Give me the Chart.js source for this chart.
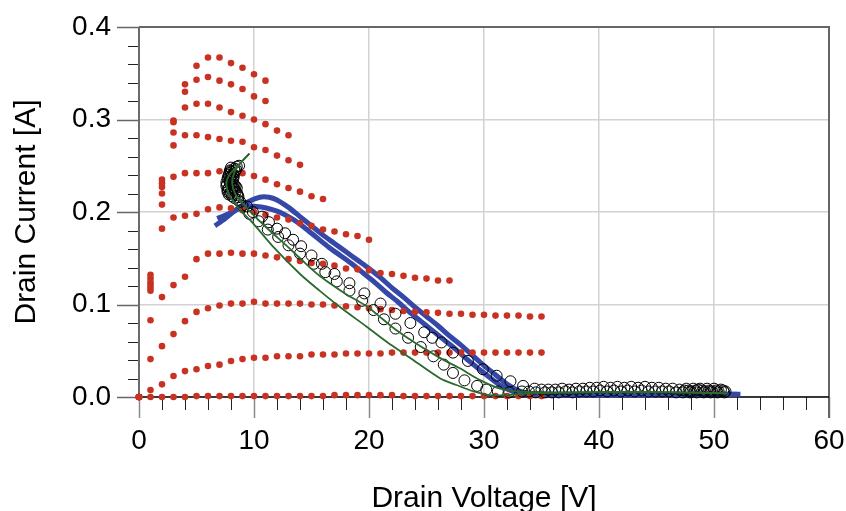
<!DOCTYPE html>
<html>
<head>
<meta charset="utf-8">
<script src="https://cdn.jsdelivr.net/npm/chart.js@4"></script>
<style>
  html, body { margin: 0; padding: 0; background: #fff; }
  #wrap { width: 846px; height: 511px; }
</style>
</head>
<body>
<div id="wrap"><canvas id="chart"></canvas></div>
<script>
// drain voltage steps of the pulsed IV family (index = Vd in volts)
const vdSteps = [0,1,2,3,4,5,6,7,8,9,10,11,12,13,14,15,16,17,18,19,20,21,22,23,24,25,26,27,28,29,30,31,32,33,34,35];

// measured IV curves, one per gate step, top to bottom
const iv1 = [0, 0.132, 0.235, 0.299, 0.338, 0.358, 0.367, 0.367, 0.361, 0.356, 0.349, 0.342];
const iv2 = [0, 0.128, 0.231, 0.297, 0.330, 0.343, 0.346, 0.342, 0.338, 0.333, 0.325, 0.320];
const iv3 = [0, 0.124, 0.227, 0.286, 0.313, 0.317, 0.317, 0.313, 0.308, 0.304, 0.300, 0.295, 0.288, 0.283];
const iv4 = [0, 0.121, 0.220, 0.272, 0.283, 0.283, 0.281, 0.279, 0.277, 0.276, 0.270, 0.267, 0.261, 0.256, 0.251];
const iv5 = [0, 0.118, 0.208, 0.238, 0.242, 0.242, 0.242, 0.244, 0.243, 0.242, 0.239, 0.235, 0.230, 0.226, 0.222, 0.217, 0.214];
const iv6 = [0, 0.115, 0.182, 0.194, 0.196, 0.198, 0.203, 0.205, 0.204, 0.202, 0.200, 0.197, 0.194, 0.192, 0.188, 0.185, 0.181, 0.179, 0.176, 0.174, 0.170];
const iv7 = [0, 0.083, 0.108, 0.121, 0.130, 0.149, 0.155, 0.155, 0.156, 0.155, 0.155, 0.153, 0.151, 0.149, 0.147, 0.145, 0.144, 0.142, 0.139, 0.138, 0.137, 0.134, 0.133, 0.131, 0.129, 0.128, 0.126, 0.126];
const iv8 = [0, 0.041, 0.055, 0.068, 0.082, 0.092, 0.096, 0.099, 0.101, 0.101, 0.103, 0.101, 0.101, 0.101, 0.101, 0.100, 0.100, 0.099, 0.098, 0.097, 0.096, 0.095, 0.094, 0.093, 0.092, 0.0915, 0.091, 0.090, 0.090, 0.089, 0.089, 0.088, 0.088, 0.088, 0.087, 0.087];
const iv9 = [0, 0.0076, 0.0137, 0.0227, 0.028, 0.030, 0.0335, 0.035, 0.039, 0.041, 0.0425, 0.0425, 0.044, 0.044, 0.044, 0.046, 0.046, 0.046, 0.047, 0.047, 0.047, 0.047, 0.048, 0.048, 0.048, 0.048, 0.048, 0.048, 0.048, 0.048, 0.048, 0.048, 0.048, 0.048, 0.048, 0.048];
const iv10 = [0, 0, 0, 0, 0, 0.001, 0.001, 0.001, 0.001, 0.001, 0.001, 0.001, 0.001, 0.001, 0.001, 0.001, 0.001, 0.002, 0.002, 0.002, 0.002, 0.002, 0.002, 0.001, 0.001, 0.001, 0.001, 0.001, 0.001, 0.001, 0.001, 0.001, 0.001, 0.001, 0.001, 0.001];

// simulated load line, open circles [Vd, Id]
const circlesV = [
  7.9,8.0,7.8,7.7,7.6,7.6,7.7,7.9,8.1,8.2,8.3,8.5,8.7,8.0,8.1,8.4,8.6,7.8,7.9,8.2,8.3,8.6,8.5,8.0,
  7.65,7.75,7.85,7.95,8.05,8.15,8.25,8.35,8.45,7.7,7.8,7.9,8.0,8.1,8.2,8.3,8.4,8.55,8.65,7.95,8.05,
  8.8,9.4,9.9,10.7,11.3,12.0,12.7,13.4,14.1,15.0,15.9,17.0,18.3,19.6,21.0,22.3,23.6,24.8,25.5,26.3,27.3,28.6,29.9,31.1,32.3,33.4,34.4,
  8.3,9.0,9.6,10.4,11.2,12.1,13.0,14.0,15.2,16.2,17.2,18.3,19.4,20.4,21.3,22.3,23.4,24.5,25.6,26.5,27.3,28.3,29.4,30.2,31.2,32.2,
  35.0,35.6,36.2,36.8,37.4,38.0,38.6,39.2,39.8,40.4,41.0,41.6,42.2,42.8,43.4,44.0,44.6,45.2,45.8,46.4,47.0,47.6,48.2,48.8,49.4,50.0,50.6,
  33.3,33.9,34.5,35.3,35.9,36.5,37.1,37.7,38.3,38.9,39.5,40.1,40.7,41.3,41.9,42.5,43.1,43.7,44.3,44.9,45.5,46.1,46.7,47.3,47.9,48.5,49.1,49.7,50.3,50.9,
  47.4,47.8,48.0,48.4,48.6,49.0,49.2,49.6,49.8,50.2,50.4,50.8,51.0
];
const circlesI = [
  0.245,0.243,0.240,0.236,0.232,0.228,0.224,0.220,0.217,0.241,0.247,0.249,0.250,0.230,0.226,0.222,0.218,0.226,0.234,0.236,0.229,0.213,0.226,0.248,
  0.230,0.238,0.242,0.238,0.235,0.232,0.239,0.244,0.246,0.222,0.219,0.231,0.221,0.223,0.227,0.225,0.228,0.220,0.216,0.244,0.239,
  0.211,0.206,0.200,0.195,0.189,0.182,0.177,0.170,0.163,0.153,0.144,0.133,0.123,0.112,0.101,0.090,0.080,0.070,0.064,0.059,0.048,0.039,0.030,0.023,0.017,0.012,0.009,
  0.215,0.207,0.198,0.190,0.181,0.173,0.164,0.155,0.144,0.135,0.125,0.115,0.104,0.094,0.084,0.074,0.064,0.054,0.044,0.035,0.026,0.018,0.012,0.008,0.006,0.005,
  0.008,0.008,0.008,0.009,0.008,0.009,0.009,0.010,0.010,0.011,0.010,0.011,0.010,0.011,0.010,0.011,0.010,0.010,0.009,0.009,0.008,0.009,0.009,0.009,0.009,0.009,0.008,
  0.006,0.006,0.005,0.005,0.005,0.005,0.006,0.005,0.006,0.006,0.006,0.007,0.006,0.007,0.006,0.007,0.006,0.007,0.006,0.006,0.006,0.006,0.005,0.005,0.005,0.005,0.005,0.005,0.005,0.005,
  0.007,0.007,0.006,0.007,0.008,0.007,0.006,0.007,0.006,0.007,0.006,0.007,0.006
];

// blue trajectory, two passes
const blueAV = [6.6,7.5,8.5,9.5,10.5,11.3,12.0,13.0,14.0,15.0,16.0,17.0,18.0,19.0,20.0,21.0,22.0,23.0,24.0,25.0,26.0,27.0,28.0,29.0,30.0,31.0,32.0,33.0,34.0,36.0,42.0,48.0,52.3];
const blueAI = [0.185,0.193,0.203,0.211,0.216,0.216,0.213,0.205,0.195,0.185,0.175,0.166,0.157,0.148,0.139,0.129,0.118,0.108,0.097,0.087,0.077,0.066,0.056,0.045,0.034,0.024,0.014,0.007,0.004,0.003,0.003,0.003,0.003];
const blueBV = [6.8,7.8,8.8,10.2,12.0,13.4,14.5,15.5,16.5,17.5,18.5,19.5,20.5,21.5,22.5,23.5,24.5,25.5,26.5,27.5,28.5,29.5,30.5,31.5,32.5,33.5,36.0,44.0,52.0];
const blueBI = [0.193,0.198,0.204,0.206,0.201,0.192,0.182,0.172,0.162,0.153,0.144,0.134,0.124,0.113,0.103,0.092,0.082,0.072,0.062,0.052,0.041,0.031,0.021,0.012,0.006,0.003,0.002,0.002,0.003];

// green trajectory, two passes
const greenAV = [9.6,8.9,8.3,8.1,8.4,9.4,11.1,12.8,14.0,15.7,17.9,19.8,21.2,22.3,24.2,26.2,27.9,29.7,31.4,32.8,36.0,42.0,48.0,51.2];
const greenAI = [0.263,0.254,0.243,0.231,0.219,0.204,0.183,0.164,0.150,0.131,0.112,0.098,0.084,0.073,0.057,0.042,0.031,0.018,0.009,0.006,0.005,0.0055,0.005,0.004];
const greenBV = [9.6,8.6,7.8,7.6,7.9,8.8,9.9,11.7,14.0,15.7,17.5,19.8,21.5,23.5,26.2,27.6,29.1,30.5,32.0,34.0,40.0,46.0,51.0];
const greenBI = [0.263,0.250,0.239,0.230,0.217,0.202,0.188,0.162,0.133,0.115,0.097,0.076,0.060,0.043,0.020,0.013,0.006,0.002,0.002,0.004,0.005,0.005,0.004];

const xTicks = [0, 10, 20, 30, 40, 50, 60];
const yTicks = [0, 0.1, 0.2, 0.3, 0.4];

const RED = '#c83223';
const BLUE = '#3548a8';
const GREEN = '#2b6a2e';
const FONT = "'Liberation Sans', Arial, Helvetica, sans-serif";

const pairs = (xs, ys) => xs.map((v, i) => ({ x: v, y: ys[i] }));
const curve = (vals) => vals.map((v, i) => ({ x: vdSteps[i], y: v }));

const ivCurves = [iv1, iv2, iv3, iv4, iv5, iv6, iv7, iv8, iv9, iv10];

// draws frame, axis lines and major/minor tick marks
const axisFrame = {
  id: 'axisFrame',
  beforeDatasetsDraw(chart) {
    const { ctx, chartArea: a, scales: { x, y } } = chart;
    ctx.save();
    // x ticks: minor every 2 V
    for (let v = 0; v <= 60; v += 2) {
      const px = Math.round(x.getPixelForValue(v)) + 0.5;
      const major = xTicks.includes(v);
      ctx.strokeStyle = major ? '#8a8a8a' : '#222';
      ctx.lineWidth = major ? 1.5 : 1;
      ctx.beginPath();
      ctx.moveTo(px, a.bottom);
      ctx.lineTo(px, a.bottom + (major ? 21 : 13));
      ctx.stroke();
    }
    // y ticks: minor every 0.02 A
    for (let k = 0; k <= 20; k++) {
      const py = Math.round(y.getPixelForValue(k * 0.02)) + 0.5;
      const major = k % 5 === 0;
      ctx.strokeStyle = major ? '#666' : '#222';
      ctx.lineWidth = major ? 1.5 : 1;
      ctx.beginPath();
      ctx.moveTo(a.left - (major ? 22 : 11), py);
      ctx.lineTo(a.left, py);
      ctx.stroke();
    }
    // frame top / right
    ctx.strokeStyle = '#666';
    ctx.lineWidth = 2;
    ctx.beginPath();
    ctx.moveTo(a.left, a.top);
    ctx.lineTo(a.right, a.top);
    ctx.lineTo(a.right, a.bottom + 21);
    ctx.stroke();
    // y axis line
    ctx.strokeStyle = '#6a6a6a';
    ctx.beginPath();
    ctx.moveTo(a.left, a.top);
    ctx.lineTo(a.left, a.bottom);
    ctx.stroke();
    // x axis line
    ctx.strokeStyle = '#000';
    ctx.lineWidth = 1.5;
    ctx.beginPath();
    ctx.moveTo(a.left, a.bottom);
    ctx.lineTo(a.right, a.bottom);
    ctx.stroke();
    ctx.restore();
  }
};

const datasets = [];
datasets.push({ label: 'green A', data: pairs(greenAV, greenAI), showLine: true, borderColor: GREEN, borderWidth: 1.8, pointRadius: 0, tension: 0.3, clip: false });
datasets.push({ label: 'green B', data: pairs(greenBV, greenBI), showLine: true, borderColor: GREEN, borderWidth: 1.8, pointRadius: 0, tension: 0.3, clip: false });
datasets.push({ label: 'circles', data: pairs(circlesV, circlesI), showLine: false, pointRadius: 5.5, pointBorderWidth: 1, pointBorderColor: '#000', pointBackgroundColor: 'rgba(0,0,0,0)', clip: false });
ivCurves.forEach((c, i) => {
  datasets.push({ label: 'Vg' + (i + 1), data: curve(c), showLine: false, pointRadius: 3.3, pointBorderWidth: 0, pointBackgroundColor: RED, pointBorderColor: RED, clip: false });
});
datasets.push({ label: 'blue A', data: pairs(blueAV, blueAI), showLine: true, borderColor: BLUE, borderWidth: 5, pointRadius: 0, tension: 0.3, clip: false });
datasets.push({ label: 'blue B', data: pairs(blueBV, blueBI), showLine: true, borderColor: BLUE, borderWidth: 5, pointRadius: 0, tension: 0.3, clip: false });

new Chart(document.getElementById('chart'), {
  type: 'scatter',
  data: { datasets: datasets },
  options: {
    responsive: true,
    maintainAspectRatio: false,
    animation: false,
    layout: { padding: { top: 27, right: 17, left: 0, bottom: 0 } },
    plugins: { legend: { display: false }, tooltip: { enabled: false } },
    scales: {
      x: {
        type: 'linear',
        min: 0, max: 60,
        afterFit: (s) => { s.height = 114; s.paddingLeft = 0; s.paddingRight = 0; },
        afterBuildTicks: (s) => { s.ticks = xTicks.map(v => ({ value: v })); },
        border: { display: false },
        grid: { color: '#d2d2d2', lineWidth: 1.5, drawTicks: false },
        ticks: { color: '#000', padding: 27, font: { family: FONT, size: 28 } },
        title: { display: true, text: 'Drain Voltage [V]', color: '#000', font: { family: FONT, size: 30, lineHeight: 1 }, padding: { top: 0, bottom: -3 } }
      },
      y: {
        type: 'linear',
        min: 0, max: 0.4,
        afterFit: (s) => { s.width = 139; s.paddingTop = 0; s.paddingBottom = 0; },
        afterBuildTicks: (s) => { s.ticks = yTicks.map(v => ({ value: v })); },
        border: { display: false },
        grid: { color: '#d2d2d2', lineWidth: 1.5, drawTicks: false },
        ticks: { color: '#000', padding: 28, font: { family: FONT, size: 28 }, callback: (v) => v.toFixed(1) },
        title: { display: true, text: 'Drain Current [A]', color: '#000', font: { family: FONT, size: 30, lineHeight: 1 }, padding: { top: 12, bottom: 0 } }
      }
    }
  },
  plugins: [axisFrame]
});
</script>
</body>
</html>
